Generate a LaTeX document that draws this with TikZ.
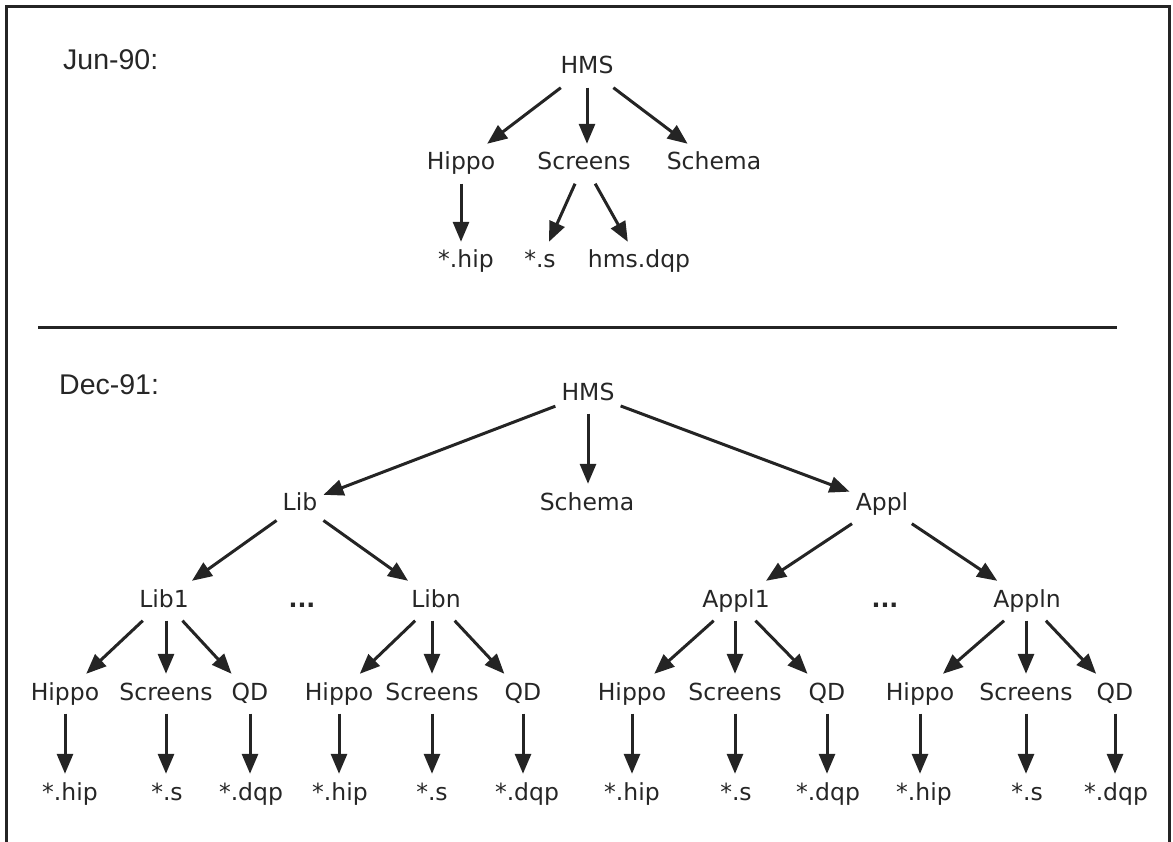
\documentclass[tikz,border=0pt]{standalone}
\usepackage{fontspec}
\setmainfont{DejaVu Sans}
\newfontfamily\datefont{Liberation Sans}
\usetikzlibrary{arrows.meta}
\definecolor{ink}{HTML}{242424}
\definecolor{txt}{HTML}{262626}
\begin{document}
\begin{tikzpicture}[x=1pt,y=-1pt,
  item/.style={anchor=base,text=txt,font=\fontsize{23.5}{26}\selectfont,
    text height=17.5pt,text depth=5pt,inner xsep=6pt,inner ysep=8.5pt},
  datelabel/.style={anchor=base west,text=txt,inner sep=0pt,
    font=\datefont\fontsize{28.5}{32}\selectfont},
  arr/.style={draw=ink,line width=3pt,-{Triangle[length=20pt,width=16pt]}},
  rule/.style={draw=ink,line width=3pt}]
\useasboundingbox (0,0) rectangle (1173,842);

% frame and divider
\draw[rule] (6,842) -- (6,7) -- (1169,7) -- (1169,842);
\draw[rule] (38,328) -- (1117,328);

% ---------- Jun-90 ----------
\node[datelabel] (jun) at (63,70) {Jun-90:};
\node[item] (hmsA) at (587,74) {HMS};
\node[item] (hippoA) at (461,170) {Hippo};
\node[item] (screensA) at (584,170) {Screens};
\node[item] (schemaA) at (714,170) {Schema};
\node[item] (hipA) at (466,268) {*.hip};
\node[item] (sA) at (540,268) {*.s};
\node[item] (dqpA) at (639,268) {hms.dqp};

\draw[arr] (hmsA) -- (hippoA);
\draw[arr] (hmsA.south) -- (hmsA.south |- screensA.north);
\draw[arr] (hmsA) -- (schemaA);
\draw[arr] (hippoA.south) -- (hippoA.south |- hipA.north);
\draw[arr] (screensA) -- (sA);
\draw[arr] (screensA) -- (dqpA);

% ---------- Dec-91 ----------
\node[datelabel] (dec) at (59,395) {Dec-91:};
\node[item] (hmsB) at (588,400) {HMS};
\node[item] (lib) at (300,510) {Lib};
\node[item] (schemaB) at (587,510) {Schema};
\node[item] (appl) at (882,510) {Appl};

\node[item] (libA) at (164,607) {Lib1};
\node[item] (dotsL) at (302,607) {\textbf{...}};
\node[item] (libN) at (436,607) {Libn};
\node[item] (applA) at (736,607) {Appl1};
\node[item] (dotsR) at (885,607) {\textbf{...}};
\node[item] (applN) at (1027,607) {Appln};

\draw[arr] (hmsB) -- (lib);
\draw[arr] (hmsB.south) -- (hmsB.south |- schemaB.north);
\draw[arr] (hmsB) -- (appl);
\draw[arr] (lib) -- (libA);
\draw[arr] (lib) -- (libN);
\draw[arr] (appl) -- (applA);
\draw[arr] (appl) -- (applN);

% leaves: one Hippo / Screens / QD group under each library and application
\foreach \p/\hx/\sx/\qx/\fh/\fs/\fq in {
    libA/65/166/250/70/167/251,
    libN/339/432/523/340/432/527,
    applA/632/735/827/632/736/828,
    applN/920/1026/1115/924/1027/1116}{
  \node[item] (\p-h) at (\hx,700) {Hippo};
  \node[item] (\p-s) at (\sx,700) {Screens};
  \node[item] (\p-q) at (\qx,700) {QD};
  \node[item] (\p-fh) at (\fh,800) {*.hip};
  \node[item] (\p-fs) at (\fs,800) {*.s};
  \node[item] (\p-fq) at (\fq,800) {*.dqp};
  \draw[arr] (\p) -- (\p-h);
  \draw[arr] (\p.south -| \p-s) -- (\p-s.north);
  \draw[arr] (\p) -- (\p-q);
  \draw[arr] (\p-h.south) -- (\p-h.south |- \p-fh.north);
  \draw[arr] (\p-s.south) -- (\p-s.south |- \p-fs.north);
  \draw[arr] (\p-q.south) -- (\p-q.south |- \p-fq.north);
}
\end{tikzpicture}
\end{document}
